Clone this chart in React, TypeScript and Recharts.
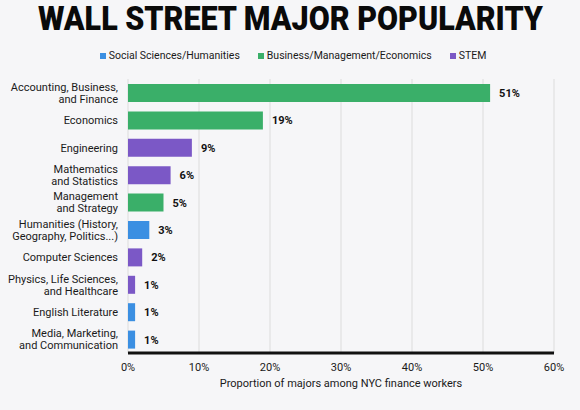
import { BarChart, Bar, XAxis, YAxis, CartesianGrid, Legend, LabelList, Cell } from "recharts";

const majors = [
  "Accounting, Business,\nand Finance",
  "Economics",
  "Engineering",
  "Mathematics\nand Statistics",
  "Management\nand Strategy",
  "Humanities (History,\nGeography, Politics...)",
  "Computer Sciences",
  "Physics, Life Sciences,\nand Healthcare",
  "English Literature",
  "Media, Marketing,\nand Communication",
];
const shares = [51, 19, 9, 6, 5, 3, 2, 1, 1, 1];
const fields = ["business", "business", "stem", "stem", "business", "social", "stem", "stem", "social", "social"];
const xTicks = [0, 10, 20, 30, 40, 50, 60];

const groups = [
  { key: "social", name: "Social Sciences/Humanities", color: "#3b8fe2" },
  { key: "business", name: "Business/Management/Economics", color: "#3aaf69" },
  { key: "stem", name: "STEM", color: "#7b58c6" },
];

const data = majors.map((m, i) => ({ major: m, share: shares[i], field: fields[i] }));

const colorOf = (k: string) => groups.find((g) => g.key === k)!.color;

function MajorTick(props: any) {
  const { x, y, payload } = props;
  const lines: string[] = String(payload.value).split("\n");
  const start = -((lines.length - 1) * 12) / 2;
  return (
    <text x={x - 2} y={y} textAnchor="end" fontSize={11} fill="#1a1a1a" fontFamily="Roboto">
      {lines.map((l, i) => (
        <tspan key={i} x={x - 2} dy={i === 0 ? start + 4 : 12}>
          {l}
        </tspan>
      ))}
    </text>
  );
}

function GroupLegend() {
  return (
    <div style={{ display: "flex", justifyContent: "center", gap: 18, fontSize: 10.5, lineHeight: "14px", color: "#1a1a1a", fontFamily: "Roboto", paddingLeft: 6 }}>
      {groups.map((g) => (
        <span key={g.key} style={{ display: "flex", alignItems: "center" }}>
          <span style={{ width: 6, height: 6, background: g.color, marginRight: 3, display: "inline-block" }} />
          {g.name}
        </span>
      ))}
    </div>
  );
}

export default function App() {
  return (
    <div style={{ position: "absolute", left: 0, top: 0, width: 580, height: 410, background: "#f6f6f8", fontFamily: "Roboto" }}>
      <svg width={580} height={46} style={{ position: "absolute", left: 0, top: 0 }}>
        <text x={38} y={30} textLength={505} lengthAdjust="spacingAndGlyphs" fontSize={33} fontWeight={900} fontFamily="Roboto" fill="#0a0a0a">
          WALL STREET MAJOR POPULARITY
        </text>
      </svg>
      <BarChart
        width={580}
        height={410}
        data={data}
        layout="vertical"
        margin={{ top: 65, right: 26, left: 0, bottom: 27 }}
        barSize={18}
      >
        <CartesianGrid horizontal={false} stroke="#dcdcdc" />
        <XAxis
          type="number"
          domain={[0, 60]}
          ticks={xTicks}
          tickFormatter={(v) => `${v}%`}
          tickLine={false}
          axisLine={{ stroke: "#111", strokeWidth: 3 }}
          tick={{ fontSize: 11, fill: "#1a1a1a" }}
          tickMargin={4}
          label={{ value: "Proportion of majors among NYC finance workers", position: "insideBottom", offset: -4, fontSize: 11, fill: "#1a1a1a" }}
        />
        <YAxis
          type="category"
          dataKey="major"
          width={128}
          tickLine={false}
          axisLine={false}
          tick={<MajorTick />}
          interval={0}
        />
        <Legend verticalAlign="top" content={<GroupLegend />} wrapperStyle={{ top: 49, left: 0, width: 580 }} />
        <Bar dataKey="share" isAnimationActive={false}>
          {data.map((d, i) => (
            <Cell key={i} fill={colorOf(d.field)} />
          ))}
          <LabelList dataKey="share" position="right" offset={9} formatter={(v: any) => `${v}%`} fontSize={11} fontWeight={700} fill="#111" />
        </Bar>
      </BarChart>
    </div>
  );
}
